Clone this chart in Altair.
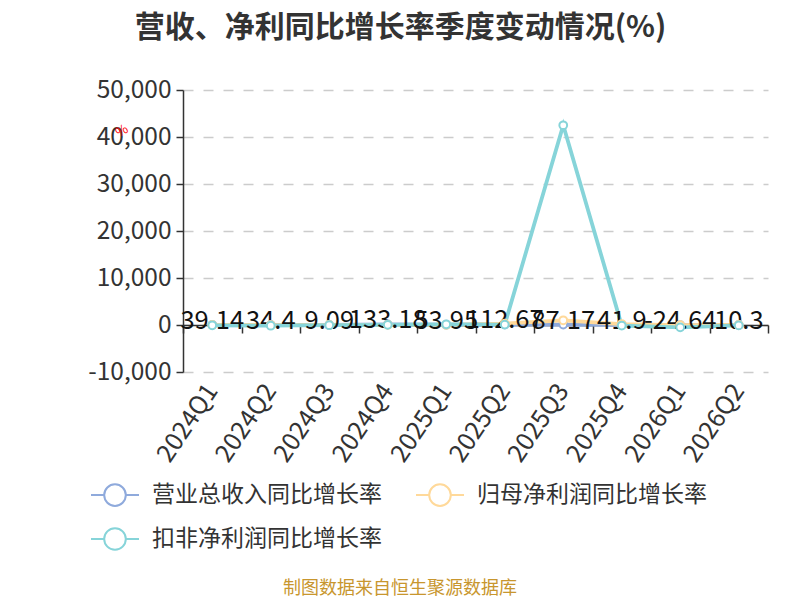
import altair as alt
import pandas as pd

quarters = ["2024Q1", "2024Q2", "2024Q3", "2024Q4", "2025Q1",
            "2025Q2", "2025Q3", "2025Q4", "2026Q1", "2026Q2"]
revenue = [39.14, 34.4, 9.09, 133.18, 53.95, 112.67, 87.17, 41.9, -24.64, 10.3]
parent_profit = [15.2, -8.5, 12.3, 45.6, 30.1, 300.0, 1000.0, 200.0, -35.2, 8.6]
deducted_profit = [-60.0, -150.0, -40.0, 30.0, 150.0, 80.0, 42500.0, -120.0, -500.0, -90.0]
y_ticks = [-10000, 0, 10000, 20000, 30000, 40000, 50000]

series_names = ["营业总收入同比增长率", "归母净利润同比增长率", "扣非净利润同比增长率"]
series_colors = ["#8FAADC", "#FFD99A", "#86D4D9"]

rows = []
for name, vals in zip(series_names, [revenue, parent_profit, deducted_profit]):
    for q, v in zip(quarters, vals):
        rows.append({"quarter": q, "series": name, "value": v})
df = pd.DataFrame(rows)
label_df = pd.DataFrame({"quarter": quarters, "value": revenue,
                         "label": [f"{v:g}" for v in revenue]})

W, H = 585, 282
YMIN, YMAX = -10000, 50000
zero_offset = -H * (0 - YMIN) / (YMAX - YMIN)

FONT = "Noto Sans CJK SC"

y_enc = alt.Y("value:Q", title=None,
              scale=alt.Scale(domain=[YMIN, YMAX], nice=False, zero=False),
              axis=alt.Axis(values=y_ticks,
                            labelExpr="datum.value < 0 ? '-' + format(-datum.value, ',') : format(datum.value, ',')",
                            labelFontSize=24.5, labelColor="#333333",
                            labelFont=FONT, labelPadding=5,
                            domainColor="#333333", domainWidth=1.5,
                            tickColor="#333333", tickSize=7, tickWidth=1.5,
                            grid=True, gridColor="#cccccc", gridDash=[10, 10],
                            gridWidth=1.5))

x_main = alt.X("quarter:N", sort=quarters, title=None,
               axis=alt.Axis(orient="bottom", domain=False, ticks=False,
                             labelAngle=-56, labelFontSize=25,
                             labelColor="#333333", labelPadding=14,
                             labelFont=FONT, grid=False))
x_zero = alt.X("quarter:N", sort=quarters, title=None,
               axis=alt.Axis(orient="bottom", labels=False, offset=zero_offset,
                             domain=True, domainColor="#333333", domainWidth=1.5,
                             ticks=True, tickBand="extent", tickSize=8,
                             tickColor="#333333", tickWidth=1.5, grid=False))
x_none = alt.X("quarter:N", sort=quarters, title=None, axis=None)

stroke_enc = alt.Stroke("series:N", sort=series_names,
                        scale=alt.Scale(domain=series_names, range=series_colors),
                        legend=alt.Legend(
                            title=None, orient="none", legendX=-93, legendY=380,
                            columns=2, direction="horizontal",
                            columnPadding=30, rowPadding=4,
                            symbolType="M-1,0H-0.45A0.45,0.45 0 1,1 0.45,0A0.45,0.45 0 1,1 -0.45,0M0.45,0H1",
                            symbolSize=2304, symbolStrokeWidth=2,
                            symbolFillColor="white",
                            labelFontSize=23, labelColor="#333333", labelFont=FONT,
                            labelOffset=12, labelLimit=400))

lines = alt.Chart(df).mark_line(strokeWidth=3.8).encode(
    x=x_main, y=y_enc, stroke=stroke_enc, detail="series:N",
    order=alt.Order("quarter:N"),
)

labels = alt.Chart(label_df).mark_text(
    fontSize=25.5, font=FONT, color="#111111", baseline="middle", dy=-4
).encode(x=x_zero, y=y_enc, text="label:N")

points = alt.Chart(df).mark_point(
    shape="circle", filled=True, fill="white", size=60, strokeWidth=2, opacity=1
).encode(
    x=x_none, y=y_enc,
    stroke=alt.Stroke("series:N", sort=series_names, legend=None),
)

pct = alt.Chart(label_df.head(1)).mark_text(
    text="%", color="red", fontSize=13, angle=330, font=FONT
).encode(x=alt.value(-61), y=alt.value(41))

footer = alt.Chart(label_df.head(1)).mark_text(
    text="制图数据来自恒生聚源数据库", color="#C8962E", fontSize=18, font=FONT
).encode(x=alt.value(217), y=alt.value(499))

chart = alt.layer(lines, labels, points, pct, footer).resolve_axis(
    x="independent"
).properties(
    width=W, height=H,
    autosize=alt.AutoSizeParams(type="none"),
    padding={"left": 175, "top": 82, "right": 24, "bottom": 236},
    title=alt.TitleParams("营收、净利同比增长率季度变动情况(%)", fontSize=30,
                          font=FONT, fontWeight="bold", color="#333333",
                          anchor="middle", dx=-75, offset=34),
).configure_view(stroke=None)

chart.save("out.html", embed_options={"renderer": "svg", "actions": False})
